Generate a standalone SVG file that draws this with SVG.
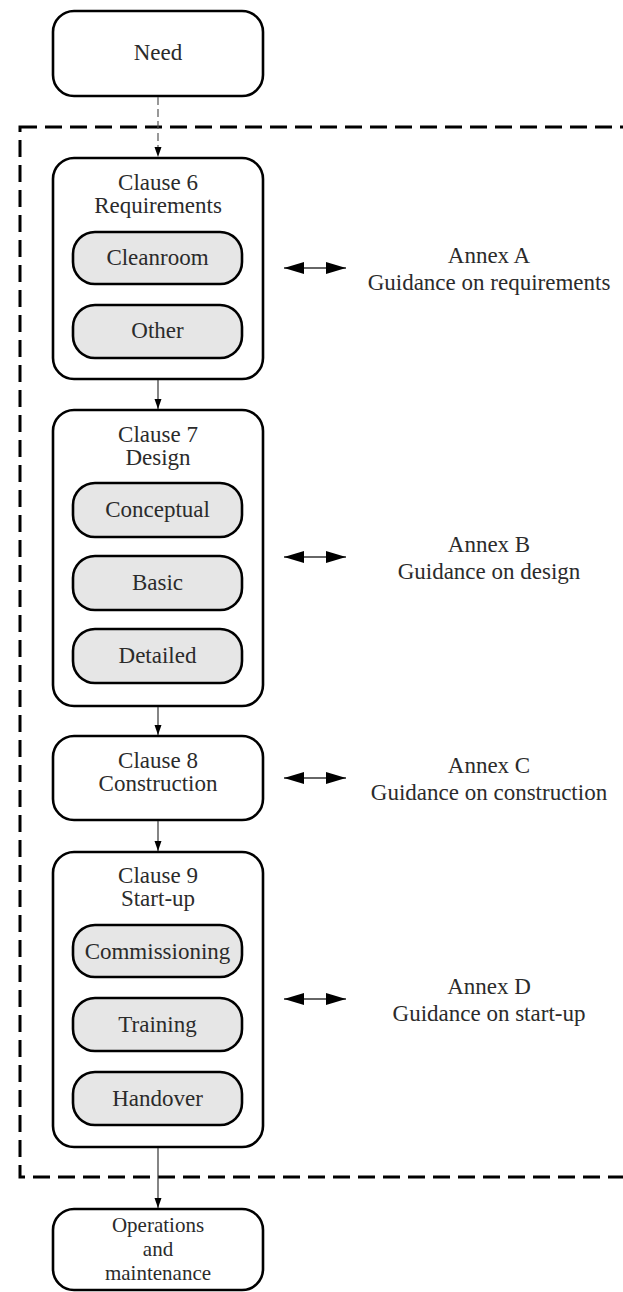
<svg xmlns="http://www.w3.org/2000/svg" width="623" height="1292" viewBox="0 0 623 1292">
<defs>
<style>
text{font-family:"Liberation Serif","Times New Roman",serif;font-size:23px;fill:#2b2b2b;text-anchor:middle}
.small{font-size:21px}
.box{fill:#fff;stroke:#000;stroke-width:2.6}
.sub{fill:#e6e6e6;stroke:#000;stroke-width:2.6}
.flow{stroke:#333;stroke-width:1.2;fill:none}
.dflow{stroke:#555;stroke-width:1.2;fill:none;stroke-dasharray:8 4}
.link{stroke:#333;stroke-width:1.3;fill:none}
</style>
<marker id="ah" viewBox="0 0 10 10" refX="10" refY="5" markerWidth="10" markerHeight="10" markerUnits="userSpaceOnUse" orient="auto"><path d="M0,1.5 L10,5 L0,8.5 z" fill="#000"/></marker>
<marker id="big" viewBox="0 0 20 12" refX="20" refY="6" markerWidth="20" markerHeight="12" markerUnits="userSpaceOnUse" orient="auto-start-reverse"><path d="M0,0 L20,6 L0,12 z" fill="#000"/></marker>
</defs>

<rect id="scope" x="20" y="127" width="640" height="1050" fill="none" stroke="#000" stroke-width="3" stroke-dasharray="17 8"/>

<g id="need"><rect class="box" x="53" y="11" width="210" height="85" rx="21"/><text x="158" y="60">Need</text></g>

<g id="clause6">
<rect class="box" x="53" y="158" width="210" height="221" rx="21"/>
<text x="158" y="190">Clause 6</text><text x="158" y="213">Requirements</text>
<g id="cleanroom"><rect class="sub" x="73" y="232" width="169" height="52" rx="22"/><text x="157.5" y="265">Cleanroom</text></g>
<g id="other"><rect class="sub" x="73" y="305" width="169" height="53" rx="22"/><text x="157.5" y="338">Other</text></g>
</g>

<g id="clause7">
<rect class="box" x="53" y="410" width="210" height="296" rx="21"/>
<text x="158" y="442">Clause 7</text><text x="158" y="465">Design</text>
<g id="conceptual"><rect class="sub" x="73" y="483" width="169" height="54" rx="22"/><text x="157.5" y="517">Conceptual</text></g>
<g id="basic"><rect class="sub" x="73" y="556" width="169" height="54" rx="22"/><text x="157.5" y="590">Basic</text></g>
<g id="detailed"><rect class="sub" x="73" y="629" width="169" height="54" rx="22"/><text x="157.5" y="663">Detailed</text></g>
</g>

<g id="clause8">
<rect class="box" x="53" y="736" width="210" height="84" rx="21"/>
<text x="158" y="768">Clause 8</text><text x="158" y="791">Construction</text>
</g>

<g id="clause9">
<rect class="box" x="53" y="852" width="210" height="295" rx="21"/>
<text x="158" y="883">Clause 9</text><text x="158" y="906">Start-up</text>
<g id="commissioning"><rect class="sub" x="73" y="925" width="169" height="52" rx="22"/><text x="157.5" y="959">Commissioning</text></g>
<g id="training"><rect class="sub" x="73" y="998" width="169" height="53" rx="22"/><text x="157.5" y="1032">Training</text></g>
<g id="handover"><rect class="sub" x="73" y="1072" width="169" height="53" rx="22"/><text x="157.5" y="1106">Handover</text></g>
</g>

<g id="ops">
<rect class="box" x="53" y="1209" width="210" height="81" rx="21"/>
<text class="small" x="158" y="1232">Operations</text><text class="small" x="158" y="1256">and</text><text class="small" x="158" y="1280">maintenance</text>
</g>

<g id="annexA"><text x="489" y="263">Annex A</text><text x="489" y="290">Guidance on requirements</text></g>
<g id="annexB"><text x="489" y="552">Annex B</text><text x="489" y="579">Guidance on design</text></g>
<g id="annexC"><text x="489" y="773">Annex C</text><text x="489" y="800">Guidance on construction</text></g>
<g id="annexD"><text x="489" y="994">Annex D</text><text x="489" y="1021">Guidance on start-up</text></g>

<g id="connectors">
<line class="dflow" x1="158" y1="97" x2="158" y2="157" marker-end="url(#ah)"/>
<line class="flow" x1="158" y1="380" x2="158" y2="409" marker-end="url(#ah)"/>
<line class="flow" x1="158" y1="707" x2="158" y2="735" marker-end="url(#ah)"/>
<line class="flow" x1="158" y1="821" x2="158" y2="851" marker-end="url(#ah)"/>
<line class="flow" x1="158" y1="1148" x2="158" y2="1208" marker-end="url(#ah)"/>
<line class="link" x1="284" y1="268" x2="346" y2="268" marker-start="url(#big)" marker-end="url(#big)"/>
<line class="link" x1="284" y1="557" x2="346" y2="557" marker-start="url(#big)" marker-end="url(#big)"/>
<line class="link" x1="284" y1="778" x2="346" y2="778" marker-start="url(#big)" marker-end="url(#big)"/>
<line class="link" x1="284" y1="999" x2="346" y2="999" marker-start="url(#big)" marker-end="url(#big)"/>
</g>
</svg>
